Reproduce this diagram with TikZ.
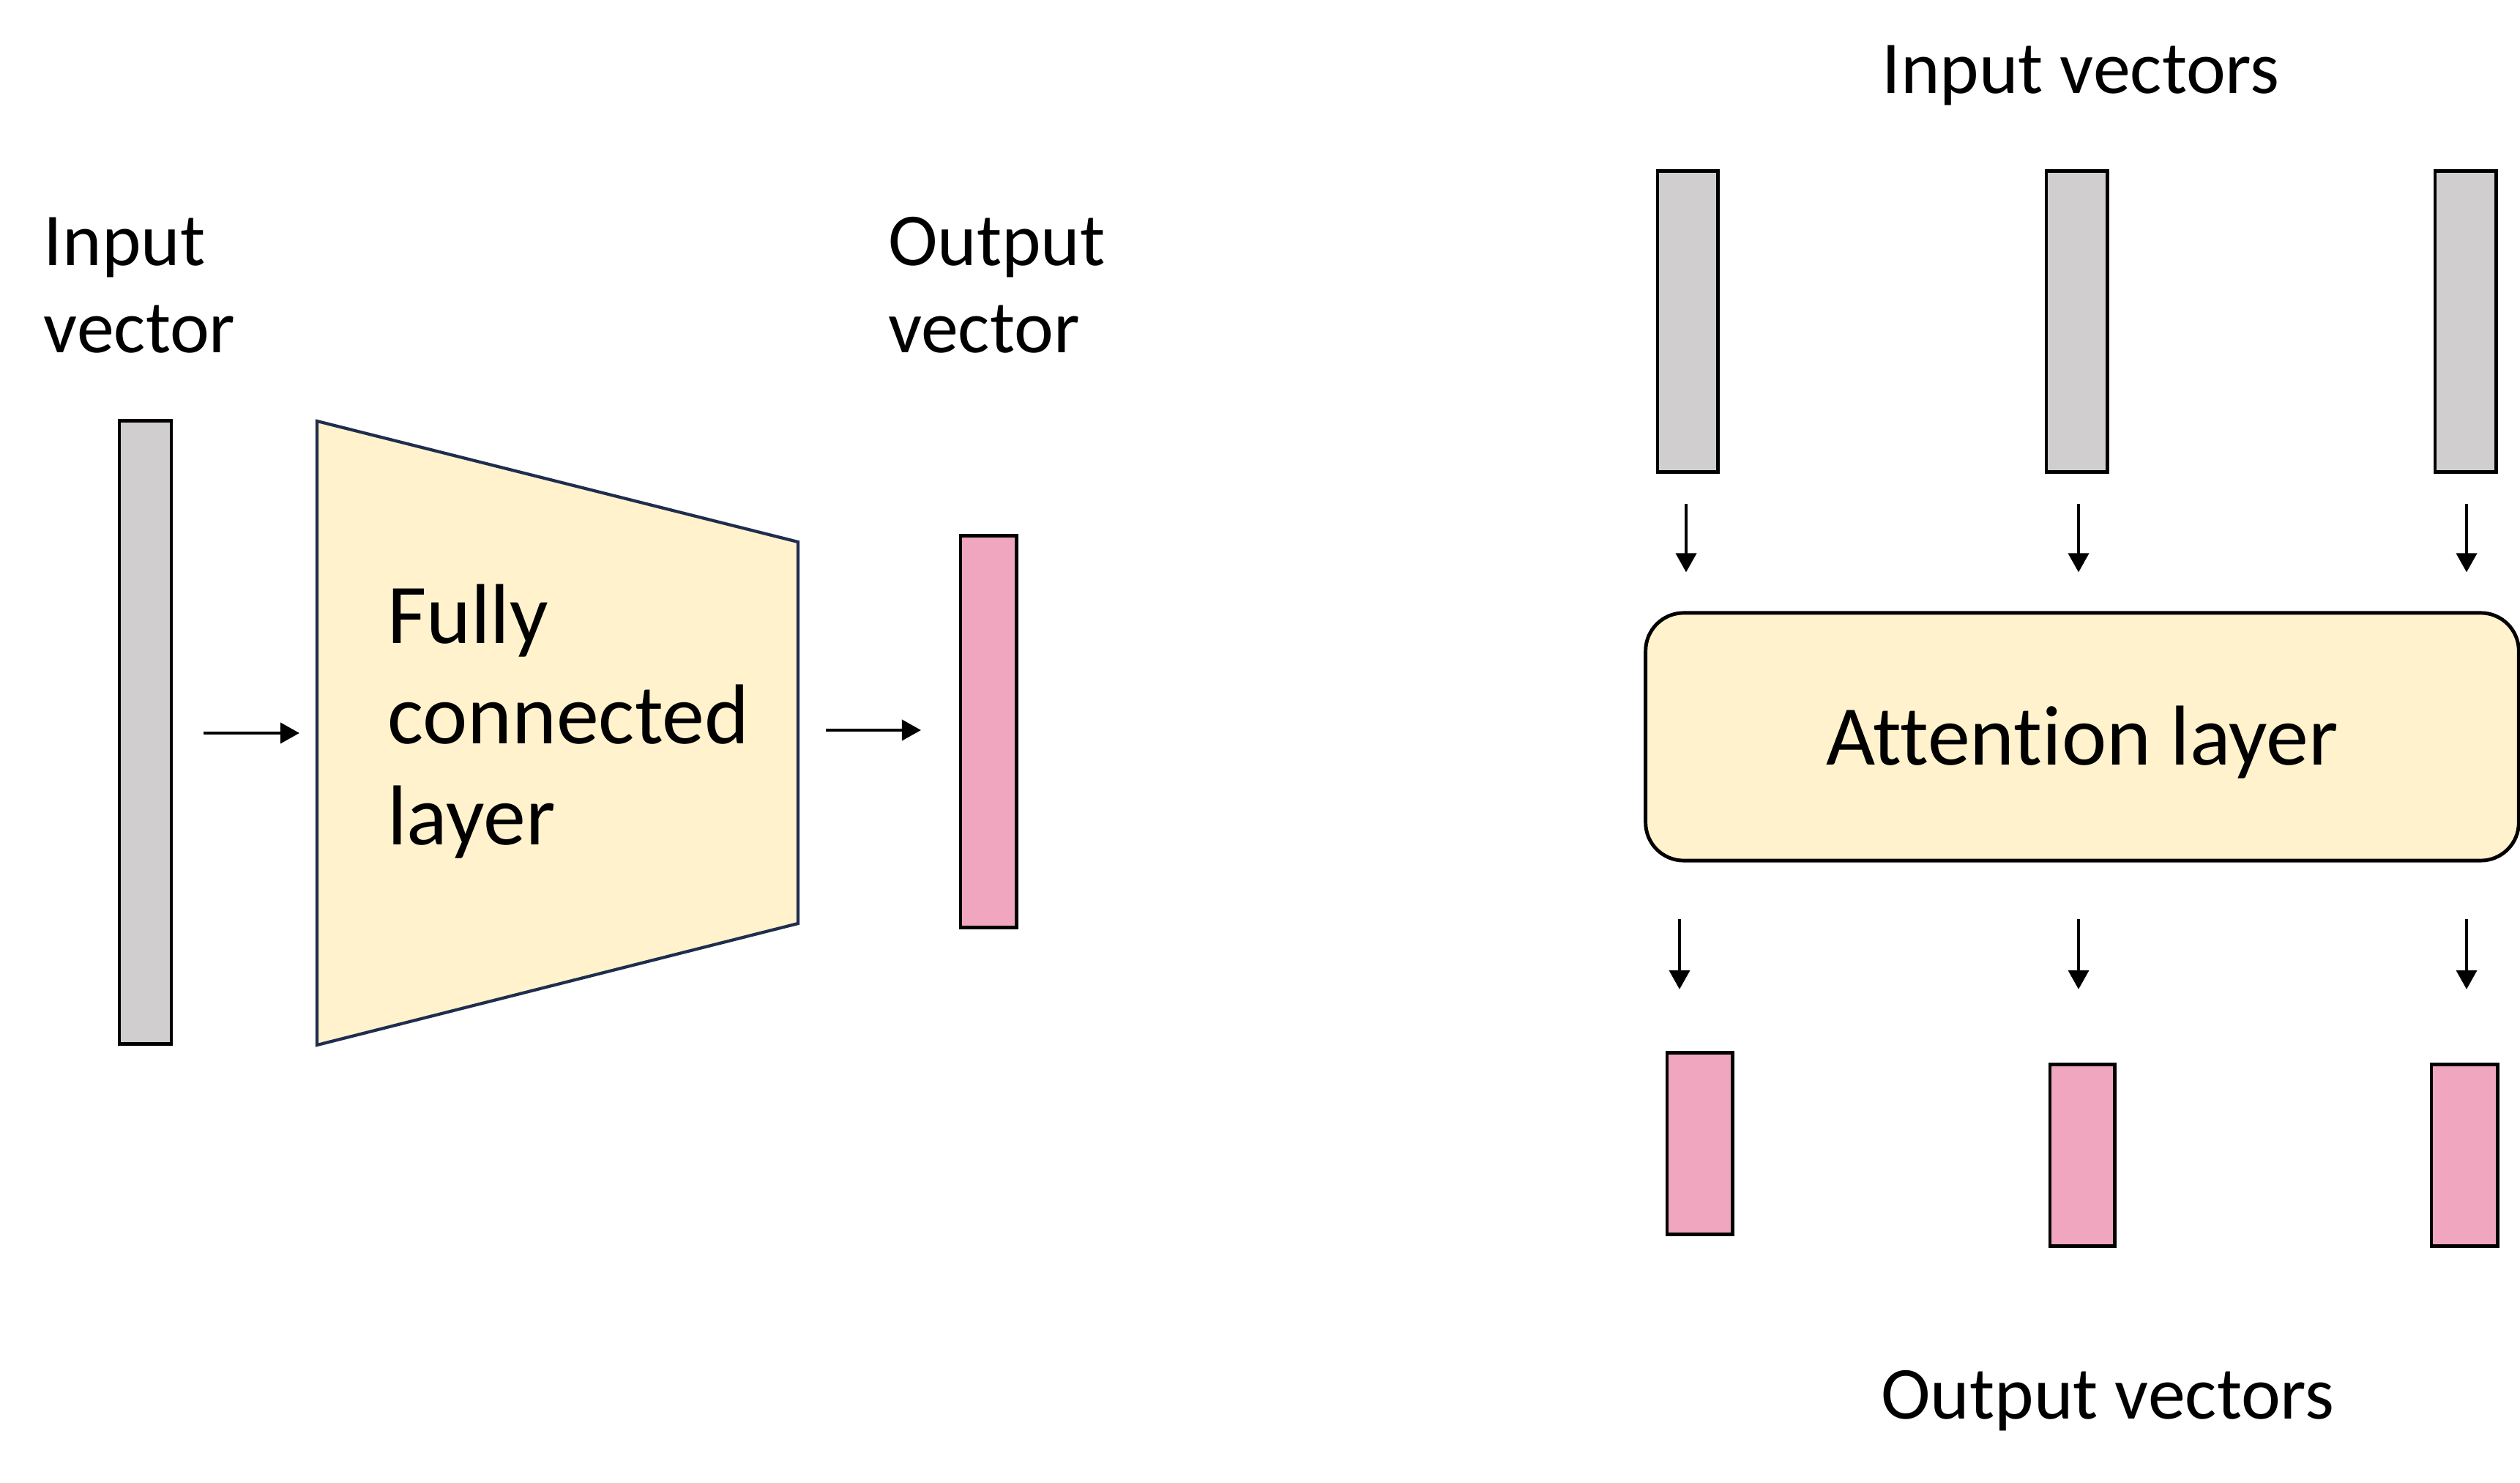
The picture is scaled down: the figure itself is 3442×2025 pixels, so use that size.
\documentclass[tikz,border=0pt]{standalone}
\usepackage{fontspec}
\setmainfont{Carlito}[Ligatures=NoCommon]
\usetikzlibrary{arrows.meta}
\definecolor{vgray}{HTML}{D0CECE}
\definecolor{vpink}{HTML}{F0A6BF}
\definecolor{lyellow}{HTML}{FFF2CC}
\definecolor{navy}{HTML}{1F2D4E}
\tikzset{
  vecbox/.style={draw=black, line width=1.4pt, inner sep=0pt, outer sep=0pt},
  invec/.style={vecbox, fill=vgray},
  outvec/.style={vecbox, fill=vpink},
  arr/.style={line width=1.1pt, -{Triangle[length=0.26cm,width=0.28cm]}},
  lbl/.style={inner sep=0pt, outer sep=0pt, font=\fontsize{29pt}{34.1pt}\selectfont, align=left},
  biglbl/.style={inner sep=0pt, outer sep=0pt, font=\fontsize{33pt}{39.1pt}\selectfont, align=left},
}
\begin{document}
\begin{tikzpicture}[x=0.01cm,y=-0.01cm]
\useasboundingbox (0,0) rectangle (3442,2025);
% ---------- left: fully connected layer ----------
\node[lbl, anchor=base west] (inlbl) at (60,482) {Input\\vector};
\node[lbl, anchor=base west] (outlbl) at (1213,482) {Output\\vector};
\node[invec, minimum width=0.71cm, minimum height=8.50cm] (inbar) at (198.5,1000) {};
\coordinate (tA) at (433,575);
\coordinate (tB) at (1090,740);
\coordinate (tC) at (1090,1261);
\coordinate (tD) at (433,1427);
\draw[navy, line width=1.2pt, fill=lyellow, line join=miter] (tA) -- (tB) -- (tC) -- (tD) -- cycle;
\node[biglbl, anchor=base west] (fc) at (529,1153) {Fully\\connected\\layer};
\node[outvec, minimum width=0.76cm, minimum height=5.34cm] (outbar) at (1350,999) {};
\coordinate (tin) at (433,1001);
\coordinate (tout) at (1090,997);
\draw[arr, shorten <=0.44cm, shorten >=0.24cm] (inbar.east |- tin) -- (tin);
\draw[arr, shorten <=0.38cm, shorten >=0.54cm] (tout) -- (outbar.west |- tout);
% ---------- right: attention layer ----------
\node[lbl, anchor=base] (invlbl) at (2842,128) {Input vectors};
\node[invec, minimum width=0.82cm, minimum height=4.10cm] (in1) at (2305,439) {};
\node[invec, minimum width=0.83cm, minimum height=4.10cm] (in2) at (2836.5,439) {};
\node[invec, minimum width=0.83cm, minimum height=4.10cm] (in3) at (3367.5,439) {};
\node[draw=black, line width=1.4pt, fill=lyellow, rounded corners=0.52cm, inner sep=0pt,
      minimum width=11.92cm, minimum height=3.38cm] (att) at (2844,1006) {};
\node[biglbl, anchor=base] (attlbl) at (2844,1044) {Attention layer};
\coordinate (a1) at (2303,644);
\coordinate (a2) at (2839,644);
\coordinate (a3) at (3369,644);
\draw[arr, shorten <=0.44cm, shorten >=0.53cm] (a1) -- (a1 |- att.north);
\draw[arr, shorten <=0.44cm, shorten >=0.53cm] (a2) -- (a2 |- att.north);
\draw[arr, shorten <=0.44cm, shorten >=0.53cm] (a3) -- (a3 |- att.north);
\node[outvec, minimum width=0.89cm, minimum height=2.47cm] (o1) at (2321.5,1561.5) {};
\node[outvec, minimum width=0.88cm, minimum height=2.47cm] (o2) at (2844,1577.5) {};
\node[outvec, minimum width=0.90cm, minimum height=2.47cm] (o3) at (3366,1577.5) {};
\coordinate (b1) at (2294,1175);
\coordinate (b2) at (2839,1175);
\coordinate (b3) at (3369,1175);
\draw[arr, shorten <=0.80cm, shorten >=0.87cm] (b1) -- (b1 |- o1.north);
\draw[arr, shorten <=0.80cm, shorten >=1.03cm] (b2) -- (b2 |- o2.north);
\draw[arr, shorten <=0.80cm, shorten >=1.03cm] (b3) -- (b3 |- o3.north);
\node[lbl, anchor=base] (outvlbl) at (2879,1937) {Output vectors};
\end{tikzpicture}
\end{document}
